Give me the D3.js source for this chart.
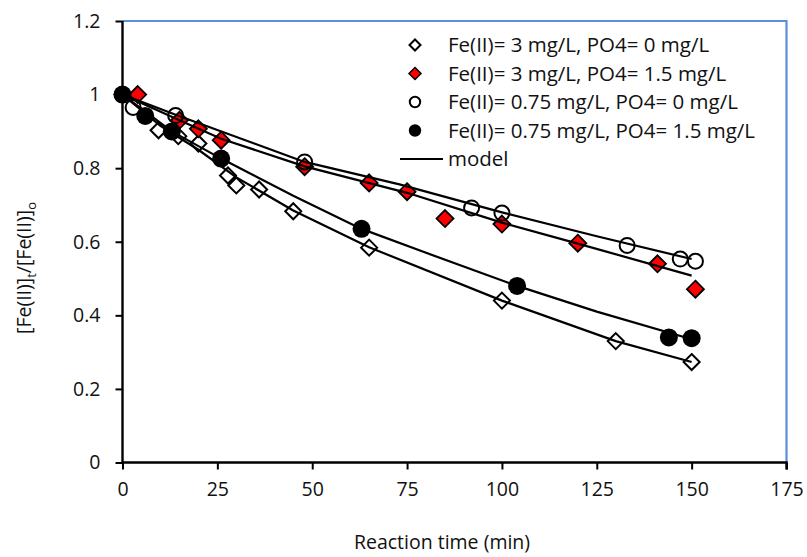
<!DOCTYPE html>
<html><head><meta charset="utf-8">
<script src="https://cdn.jsdelivr.net/npm/d3@7/dist/d3.min.js"></script>
<style>body{margin:0;background:#fff}svg{display:block}text{font-family:"Open Sans",Lato,sans-serif;fill:#111}</style>
</head><body><svg id="c" width="807" height="557"></svg>
<script>
// Data
const xTicks = [0, 25, 50, 75, 100, 125, 150, 175];
const yTicks = [0, 0.2, 0.4, 0.6, 0.8, 1, 1.2];
const seriesNames = ["Fe(II)= 3 mg/L, PO4= 0 mg/L", "Fe(II)= 3 mg/L, PO4= 1.5 mg/L", "Fe(II)= 0.75 mg/L, PO4= 0 mg/L", "Fe(II)= 0.75 mg/L, PO4= 1.5 mg/L"];
// series 1: Fe 3, PO4 0 (open diamonds)
const t1 = [0, 9.5, 14.7, 20, 27.8, 30, 36, 45, 65, 100, 130, 150];
const v1 = [1.0, 0.903, 0.887, 0.867, 0.78, 0.753, 0.742, 0.683, 0.584, 0.44, 0.33, 0.273];
// series 2: Fe 3, PO4 1.5 (red diamonds)
const t2 = [4, 15, 20, 26, 48, 65, 75, 85, 100, 120, 141, 151];
const v2 = [1.0, 0.93, 0.907, 0.876, 0.804, 0.76, 0.736, 0.663, 0.648, 0.596, 0.54, 0.471];
// series 3: Fe 0.75, PO4 0 (open circles)
const t3 = [0, 2.8, 14, 48, 92, 100, 133, 147, 151];
const v3 = [1.0, 0.965, 0.943, 0.817, 0.692, 0.678, 0.59, 0.553, 0.547];
// series 4: Fe 0.75, PO4 1.5 (filled circles)
const t4 = [0, 6, 13, 26, 63, 104, 144, 150];
const v4 = [1.0, 0.942, 0.9, 0.826, 0.635, 0.48, 0.34, 0.338];
// model curves
const mt1 = [0, 10, 20, 30, 45, 65, 100, 130, 150];
const mv1 = [1.0, 0.915, 0.85, 0.775, 0.685, 0.585, 0.44, 0.33, 0.273];
const mt2 = [0, 15, 26, 48, 75, 100, 120, 150];
const mv2 = [1.0, 0.93, 0.88, 0.805, 0.733, 0.652, 0.595, 0.508];
const mt3 = [0, 14, 48, 73, 100, 125, 150];
const mv3 = [1.0, 0.945, 0.817, 0.756, 0.68, 0.615, 0.553];
const mt4 = [0, 13, 26, 45, 63, 80, 104, 125, 150];
const mv4 = [1.0, 0.9, 0.826, 0.725, 0.635, 0.57, 0.48, 0.41, 0.335];

const svg = d3.select("#c");
const L = 122.5, R = 786.5, T = 21, B = 462.5;
const x = d3.scaleLinear().domain([0, 175]).range([L, R]);
const y = d3.scaleLinear().domain([0, 1.2]).range([B, T]);

// frame top/right blue
svg.append("path").attr("d", `M${L},${T}H${R}V${B}`).attr("fill", "none").attr("stroke", "#5b8fd8").attr("stroke-width", 2.2);

// axes
const xa = svg.append("g").attr("transform", `translate(0,${B})`).call(d3.axisBottom(x).tickValues(xTicks).tickSize(7).tickPadding(13).tickFormat(d3.format("d")));
const ya = svg.append("g").attr("transform", `translate(${L},0)`).call(d3.axisLeft(y).tickValues(yTicks).tickSize(7).tickPadding(15).tickFormat(d => d3.format("")(+d.toFixed(1))));
[xa, ya].forEach(g => {
  g.select(".domain").attr("stroke", "#000").attr("stroke-width", 2.4);
  g.selectAll(".tick line").attr("stroke", "#000").attr("stroke-width", 2);
  g.selectAll(".tick text").attr("font-size", 19.5).attr("font-family", "Open Sans").attr("fill", "#111");
});
xa.select(".domain").attr("d", `M${L},0H${R}V7`);
ya.select(".domain").attr("d", `M0,${B}V${T}`);

// titles
svg.append("text").attr("x", 442).attr("y", 549).attr("text-anchor", "middle").attr("font-size", 19.5).text("Reaction time (min)");
const yt = svg.append("text").attr("transform", "translate(31,268) rotate(-90)").attr("text-anchor", "middle").attr("font-size", 19.5);
yt.append("tspan").text("[Fe(II)]");
yt.append("tspan").attr("font-size", 13).attr("dy", 5).text("t");
yt.append("tspan").attr("dy", -5).text("/[Fe(II)]");
yt.append("tspan").attr("font-size", 13).attr("dy", 5).text("o");

const diamond = (s) => `M0,${-s}L${s},0L0,${s}L${-s},0Z`;
const zip = (a, b) => a.map((d, i) => [d, b[i]]);

// markers
const g = svg.append("g");
g.selectAll(".s1").data(zip(t1, v1)).join("path").attr("transform", d => `translate(${x(d[0])},${y(d[1])})`)
  .attr("d", diamond(8)).attr("fill", "none").attr("stroke", "#000").attr("stroke-width", 2);
g.selectAll(".s2").data(zip(t2, v2)).join("path").attr("transform", d => `translate(${x(d[0])},${y(d[1])})`)
  .attr("d", diamond(8.5)).attr("fill", "#ff0000").attr("stroke", "#000").attr("stroke-width", 1.8);
g.selectAll(".s3").data(zip(t3, v3)).join("circle").attr("cx", d => x(d[0])).attr("cy", d => y(d[1])).attr("r", 7.5)
  .attr("fill", "none").attr("stroke", "#000").attr("stroke-width", 2);
g.selectAll(".s4").data(zip(t4, v4)).join("circle").attr("cx", d => x(d[0])).attr("cy", d => y(d[1])).attr("r", 9)
  .attr("fill", "#000");

// model lines
const line = d3.line().x(d => x(d[0])).y(d => y(d[1]));
[[mt1, mv1], [mt2, mv2], [mt3, mv3], [mt4, mv4]].forEach(([a, b]) => {
  svg.append("path").datum(zip(a, b)).attr("d", line).attr("fill", "none").attr("stroke", "#000").attr("stroke-width", 2.2);
});

// legend
const lg = svg.append("g");
const rowY = [45, 73.5, 102, 130.5, 159];
const mx = 415, tx = 448;
lg.append("path").attr("transform", `translate(${mx},${rowY[0]})`).attr("d", diamond(5.5)).attr("fill", "none").attr("stroke", "#000").attr("stroke-width", 2);
lg.append("path").attr("transform", `translate(${mx},${rowY[1]})`).attr("d", diamond(6)).attr("fill", "#ff0000").attr("stroke", "#000").attr("stroke-width", 1.5);
lg.append("circle").attr("cx", mx).attr("cy", rowY[2]).attr("r", 5.2).attr("fill", "none").attr("stroke", "#000").attr("stroke-width", 2);
lg.append("circle").attr("cx", mx).attr("cy", rowY[3]).attr("r", 6.2).attr("fill", "#000");
lg.append("line").attr("x1", 400).attr("x2", 443).attr("y1", rowY[4]).attr("y2", rowY[4]).attr("stroke", "#000").attr("stroke-width", 2.2);
seriesNames.concat(["model"]).forEach((s, i) => {
  lg.append("text").attr("x", tx).attr("y", rowY[i]).attr("dy", "0.35em").attr("font-size", 20.5).text(s);
});
</script></body></html>
